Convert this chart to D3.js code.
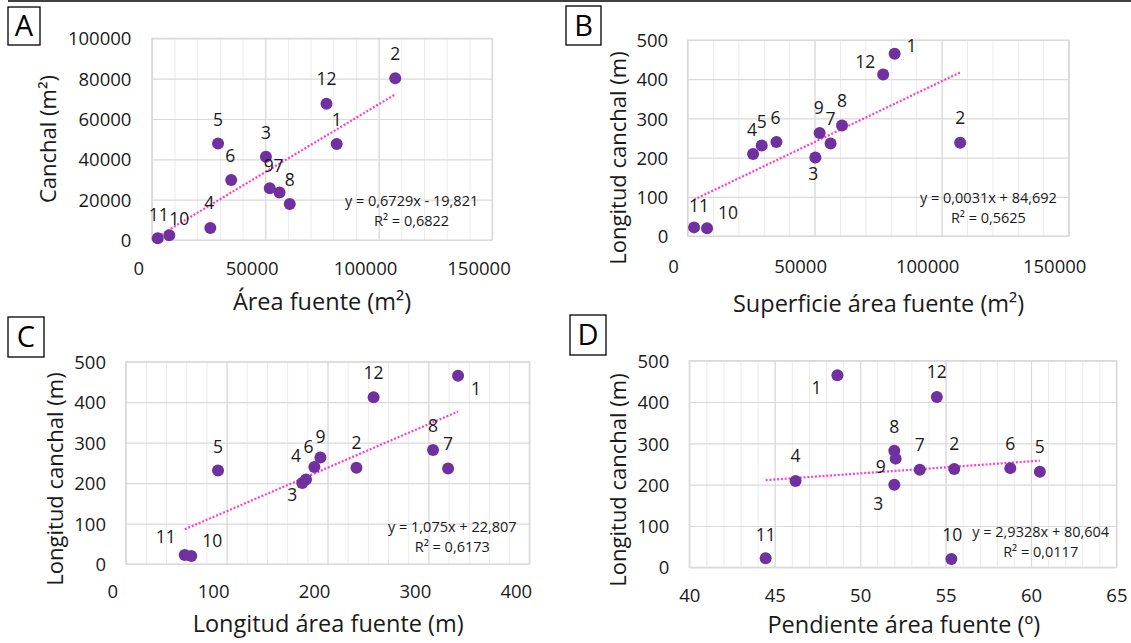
<!DOCTYPE html>
<html><head><meta charset="utf-8">
<script src="https://cdn.jsdelivr.net/npm/d3@7"></script>
<style>
html,body{margin:0;padding:0;background:#fff;}
svg{display:block;font-family:"Open Sans",sans-serif;}
</style></head>
<body>
<svg id="chart" width="1131" height="643"></svg>
<script>
// ---------------- DATA ----------------
const ids = ["1","2","3","4","5","6","7","8","9","10","11","12"];
const areaFuente      = [81500,107300,50300,25800,29200,35000,56300,60800,52000,7700,2600,77000]; // m2
const canchalArea     = [47600,80200,41300,5950,47900,29700,23500,17850,25600,2300,850,67600];   // m2
const longitudCanchal = [465,238,200,209,231,240,236,282,263,20,22,412];                         // m
const longitudArea    = [329.4,228.7,175,178.7,91.5,187,319.5,304.6,193,65,58.5,245.7];          // m
const pendienteArea   = [48.67,55.51,52.0,46.22,60.52,58.79,53.49,52.0,52.08,55.34,44.47,54.49];  // deg

const xTicksA = [0,50000,100000,150000];
const yTicksA = [0,20000,40000,60000,80000,100000];
const xTicksB = [0,50000,100000,150000];
const yTicksLen = [0,100,200,300,400,500];
const xTicksC = [0,100,200,300,400];
const xTicksD = [40,45,50,55,60,65];

const slopes     = [0.6729, 0.0031, 1.075, 2.9328];
const intercepts = [-19.821, 84.692, 22.807, 80.604];
const eqTexts = [
  ["y = 0,6729x - 19,821","R² = 0,6822"],
  ["y = 0,0031x + 84,692","R² = 0,5625"],
  ["y = 1,075x + 22,807","R² = 0,6173"],
  ["y = 2,9328x + 80,604","R² = 0,0117"]
];
const panelLetters = ["A","B","C","D"];
const xTitles = ["Área fuente (m²)","Superficie área fuente (m²)","Longitud área fuente (m)","Pendiente área fuente (º)"];
const yTitles = ["Canchal (m²)","Longitud canchal (m)","Longitud canchal (m)","Longitud canchal (m)"];

// ---------------- LAYOUT / STYLE ----------------
const C_DOT = "#7030A0", C_TREND = "#FF3CCB", C_MAJOR = "#d9d9d9", C_MINOR = "#ececec", C_TXT = "#1a1a1a";

// label offsets (dx,dy) per point, per panel (index order = ids)
const labelOff = [
  [[0,-24],[0,-25],[0,-24],[-1,-25],[0,-24],[-1,-24],[-1,-27],[0,-24],[-1,-23],[10,-17],[1,-24],[0,-25]],
  [[17,-8],[0,-25],[-2,16],[-1,-24],[0,-24],[-1,-24],[0,-25],[0,-25],[-1,-25],[21,-15],[5,-22],[-18,-13]],
  [[18,13],[0,-25],[-10,12],[-10,-24],[0,-24],[-6,-20],[0,-25],[0,-24],[0,-21],[21,-15],[-19,-18],[0,-25]],
  [[-21,13],[0,-25],[-16,19],[0,-25],[0,-25],[0,-24],[0,-25],[0,-24],[-15,8],[1,-24],[0,-24],[0,-25]]
];

const panels = [
  {xs:areaFuente, ys:canchalArea, xd:[0,150000], yd:[0,100000], xt:xTicksA, yt:yTicksA, xMinor:10000,
   l:151.8, r:492.1, t:38.3, b:240, xShift:-13.6, xly:28, ypad:20.4, box:[8,7,32,38],
   ytx:48, yty:139, xtx:322, xty:302, eq:[411.6,201]},
  {xs:areaFuente, ys:longitudCanchal, xd:[0,150000], yd:[0,500], xt:xTicksB, yt:yTicksLen, xMinor:10000,
   l:687.5, r:1068.7, t:40, b:236, xShift:-14.5, xly:30.5, ypad:19.3, box:[566,6,35,39],
   ytx:618, yty:158, xtx:878.6, xty:304, eq:[988.4,198]},
  {xs:longitudArea, ys:longitudCanchal, xd:[0,400], yd:[0,500], xt:xTicksC, yt:yTicksLen, xMinor:20,
   l:125.7, r:529.3, t:361.7, b:564, xShift:-13.5, xly:27.7, ypad:19.7, box:[8,317,36,40],
   ytx:55, yty:479, xtx:328.2, xty:624, eq:[452.3,527]},
  {xs:pendienteArea, ys:longitudCanchal, xd:[40,65], yd:[0,500], xt:xTicksD, yt:yTicksLen, xMinor:1,
   l:689.3, r:1116.4, t:360.7, b:567.3, xShift:0, xly:27.7, ypad:20.1, box:[570,315,36,40],
   ytx:618, yty:480, xtx:903.8, xty:625, eq:[1040.7,532]}
];

const svg = d3.select("#chart");

// top rule
svg.append("line").attr("x1",8).attr("x2",1131).attr("y1",1).attr("y2",1)
  .attr("stroke","#000").attr("stroke-width",1.5);

panels.forEach((p, i) => {
  const x = d3.scaleLinear().domain(p.xd).range([p.l, p.r]);
  const y = d3.scaleLinear().domain(p.yd).range([p.b, p.t]);
  const g = svg.append("g");

  // minor vertical gridlines
  const minorTicks = d3.range(p.xd[0], p.xd[1] + 1e-9, p.xMinor);
  g.append("g").attr("transform", `translate(0,${p.b})`)
    .call(d3.axisBottom(x).tickValues(minorTicks).tickSize(-(p.b - p.t)).tickFormat(""))
    .call(a => a.select(".domain").remove())
    .call(a => a.selectAll("line").attr("stroke", C_MINOR).attr("stroke-width",1));
  // major gridlines
  g.append("g").attr("transform", `translate(0,${p.b})`)
    .call(d3.axisBottom(x).tickValues(p.xt).tickSize(-(p.b - p.t)).tickFormat(""))
    .call(a => a.select(".domain").remove())
    .call(a => a.selectAll("line").attr("stroke", C_MAJOR).attr("stroke-width",1.2));
  g.append("g").attr("transform", `translate(${p.l},0)`)
    .call(d3.axisLeft(y).tickValues(p.yt).tickSize(-(p.r - p.l)).tickFormat(""))
    .call(a => a.select(".domain").remove())
    .call(a => a.selectAll("line").attr("stroke", C_MAJOR).attr("stroke-width",1.2));
  // plot border
  g.append("rect").attr("x",p.l).attr("y",p.t).attr("width",p.r-p.l).attr("height",p.b-p.t)
    .attr("fill","none").attr("stroke",C_MAJOR).attr("stroke-width",1.2);

  // tick labels
  const ax = g.append("g").attr("transform", `translate(0,${p.b})`)
    .call(d3.axisBottom(x).tickValues(p.xt).tickSize(0).tickPadding(0).tickFormat(d3.format("d")));
  ax.select(".domain").remove();
  ax.selectAll("text").attr("x", p.xShift).attr("y", p.xly).attr("dy","0.36em")
    .attr("font-size",18.5).attr("fill",C_TXT).attr("font-family","'Open Sans',sans-serif");
  const ay = g.append("g").attr("transform", `translate(${p.l},0)`)
    .call(d3.axisLeft(y).tickValues(p.yt).tickSize(0).tickPadding(p.ypad).tickFormat(d3.format("d")));
  ay.select(".domain").remove();
  ay.selectAll("text").attr("font-size",18.5).attr("fill",C_TXT).attr("dy","0.36em")
    .attr("font-family","'Open Sans',sans-serif");

  // trend line (from min x to max x of the data)
  const ext = d3.extent(p.xs);
  const tl = ext.map(v => [v, slopes[i]*v + intercepts[i]]);
  g.append("path").attr("d", d3.line().x(d=>x(d[0])).y(d=>y(d[1]))(tl))
    .attr("fill","none").attr("stroke",C_TREND).attr("stroke-width",2.2)
    .attr("stroke-dasharray","2 1.8");

  // points
  const pts = ids.map((id,k)=>({id, xv:p.xs[k], yv:p.ys[k], off:labelOff[i][k]}));
  g.selectAll("circle.pt").data(pts).join("circle").attr("class","pt")
    .attr("cx",d=>x(d.xv)).attr("cy",d=>y(d.yv)).attr("r",6).attr("fill",C_DOT);

  // data labels
  g.selectAll("text.lbl").data(pts).join("text").attr("class","lbl")
    .attr("x",d=>x(d.xv)+d.off[0]).attr("y",d=>y(d.yv)+d.off[1])
    .attr("dy","0.36em").attr("text-anchor","middle").attr("font-size",17.5).attr("fill",C_TXT)
    .text(d=>d.id);

  // equation
  const eq = g.append("text").attr("text-anchor","middle").attr("font-size",14.5).attr("fill",C_TXT);
  eq.append("tspan").attr("x",p.eq[0]).attr("y",p.eq[1]).attr("dy","0.36em").text(eqTexts[i][0]);
  eq.append("tspan").attr("x",p.eq[0]).attr("y",p.eq[1]+20).attr("dy","0.36em").text(eqTexts[i][1]);

  // axis titles
  g.append("text").attr("x",p.xtx).attr("y",p.xty).attr("dy","0.36em").attr("text-anchor","middle")
    .attr("font-size",23.5).attr("fill",C_TXT).text(xTitles[i]);
  g.append("text").attr("transform",`translate(${p.ytx},${p.yty}) rotate(-90)`).attr("dy","0.36em")
    .attr("text-anchor","middle").attr("font-size",22).attr("fill",C_TXT).text(yTitles[i]);

  // panel letter box
  g.append("rect").attr("x",p.box[0]).attr("y",p.box[1]).attr("width",p.box[2]).attr("height",p.box[3])
    .attr("fill","#fff").attr("stroke","#000").attr("stroke-width",1.3);
  g.append("text").attr("x",p.box[0]+p.box[2]/2).attr("y",p.box[1]+p.box[3]/2).attr("dy","0.36em")
    .attr("text-anchor","middle").attr("font-size",29).attr("fill","#000").text(panelLetters[i]);
});
</script>
</body></html>
